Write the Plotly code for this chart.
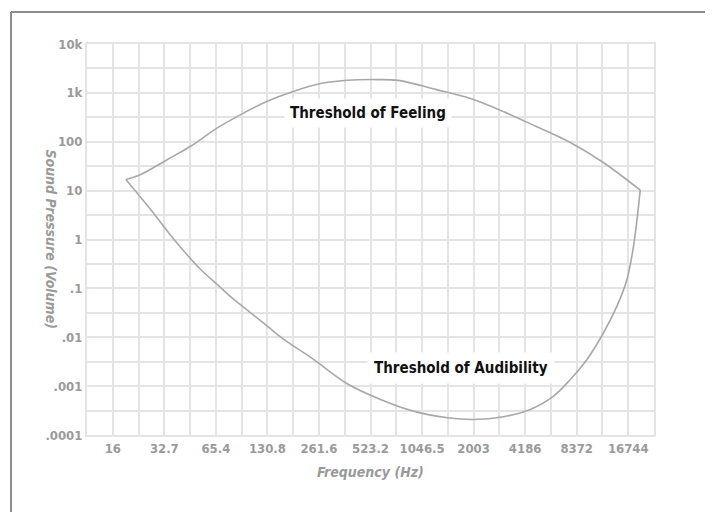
import numpy as np
import plotly.graph_objects as go

# ---- data ----
feeling_freq = [19.5, 23.8, 34.1, 46.6, 66.7, 95.4, 130.6, 186.8, 267.3, 382.6, 572.6, 760,
                1270, 2005, 3124, 4866, 7683, 11970, 19680]
feeling_press = [16.9, 21.3, 43.3, 80.9, 192, 390, 673, 1079, 1549, 1811, 1871, 1800,
                 1167, 764, 415, 205, 96.4, 37.6, 10.2]

audib_freq = [19.5, 27.2, 34.1, 42.6, 53.3, 66.7, 83.4, 104.4, 130.6, 163.3, 243.3, 382.6,
              598.4, 932, 1466, 2087, 3135, 4488, 6136, 7683, 9616, 12012, 14385, 16455,
              17978, 19680]
audib_press = [16.9, 4.11, 1.48, 0.576, 0.243, 0.120, 0.0593, 0.0317, 0.0169, 0.00902,
               0.00352, 0.00112, 0.000535, 0.000308, 0.000226, 0.000208, 0.000237,
               0.000334, 0.000625, 0.00137, 0.00352, 0.01236, 0.0433, 0.152, 0.730, 10.2]

x_tick_freqs = [16.35, 32.7, 65.41, 130.81, 261.63, 523.25, 1046.5, 2093.0, 4186.0, 8372.0, 16744.0]
x_tick_labels = ["16", "32.7", "65.4", "130.8", "261.6", "523.2", "1046.5", "2003", "4186", "8372", "16744"]

y_tick_vals = [0.0001, 0.001, 0.01, 0.1, 1, 10, 100, 1000, 10000]
y_tick_labels = [".0001", ".001", ".01", ".1", "1", "10", "100", "1k", "10k"]

# ---- ticks incl. half-step grid lines ----
r2 = np.sqrt(2)
xtv, xtt = [], []
for f, lab in zip(x_tick_freqs, x_tick_labels):
    xtv += [f / r2, f]
    xtt += ["", lab]
xtv.append(x_tick_freqs[-1] * r2)
xtt.append("")

ytv, ytt = [], []
for i, (v, lab) in enumerate(zip(y_tick_vals, y_tick_labels)):
    ytv.append(v)
    ytt.append(lab)
    if i < len(y_tick_vals) - 1:
        ytv.append(v * np.sqrt(10))
        ytt.append("")

FONT = "DejaVu Sans Condensed, Liberation Sans Narrow, Arial Narrow, sans-serif"
LINE = "#a8a8a8"
GRID = "#e4e4e4"

fig = go.Figure()
fig.add_trace(go.Scatter(x=feeling_freq, y=feeling_press, mode="lines",
                         line=dict(color=LINE, width=1.6, shape="spline", smoothing=1.0),
                         hoverinfo="skip", showlegend=False))
fig.add_trace(go.Scatter(x=audib_freq, y=audib_press, mode="lines",
                         line=dict(color=LINE, width=1.6, shape="spline", smoothing=1.0),
                         hoverinfo="skip", showlegend=False))

fig.update_xaxes(type="log",
                 range=[np.log10(x_tick_freqs[0] / r2), np.log10(x_tick_freqs[-1] * r2)],
                 tickmode="array", tickvals=xtv, ticktext=xtt,
                 showgrid=True, gridcolor=GRID, gridwidth=2,
                 showline=True, linecolor=GRID, linewidth=2, mirror=True,
                 zeroline=False, ticks="",
                 tickfont=dict(family=FONT, size=13, color="#9a9a9a", weight="bold"))
fig.update_yaxes(type="log", range=[-4, 4],
                 tickmode="array", tickvals=ytv, ticktext=ytt,
                 showgrid=True, gridcolor=GRID, gridwidth=2,
                 showline=True, linecolor=GRID, linewidth=2, mirror=True,
                 zeroline=False, ticks="",
                 tickfont=dict(family=FONT, size=13, color="#9a9a9a", weight="bold"))

fig.add_annotation(x=np.log10(509), y=np.log10(395), xref="x", yref="y",
                   text="<b>Threshold of Feeling</b>", showarrow=False,
                   font=dict(family=FONT, size=15, color="#111111"),
                   bgcolor="white", borderpad=5)
fig.add_annotation(x=np.log10(1777), y=np.log10(0.0023), xref="x", yref="y",
                   text="<b>Threshold of Audibility</b>", showarrow=False,
                   font=dict(family=FONT, size=15, color="#111111"),
                   bgcolor="white", borderpad=6)

fig.add_annotation(x=0.5, y=-0.12, xref="paper", yref="paper",
                   text="<b><i>Frequency (Hz)</i></b>", showarrow=False,
                   font=dict(family=FONT, size=14, color="#9a9a9a"))
fig.add_annotation(x=-0.081, y=0.5, xref="paper", yref="paper",
                   text="<b><i>Sound Pressure (Volume)</i></b>", showarrow=False, textangle=90,
                   font=dict(family=FONT, size=14, color="#9a9a9a"))

# outer frame (top and left edges)
fig.add_shape(type="line", xref="paper", yref="paper", x0=-0.134, x1=1.2, y0=1.0818, y1=1.0818,
              line=dict(color="#8c8c8c", width=2))
fig.add_shape(type="line", xref="paper", yref="paper", x0=-0.134, x1=-0.134, y0=1.0818, y1=-0.3,
              line=dict(color="#8c8c8c", width=2))

fig.update_layout(width=705, height=504,
                  margin=dict(l=79, r=59, t=36, b=77),
                  paper_bgcolor="white", plot_bgcolor="white")

fig.write_html("out.html")
